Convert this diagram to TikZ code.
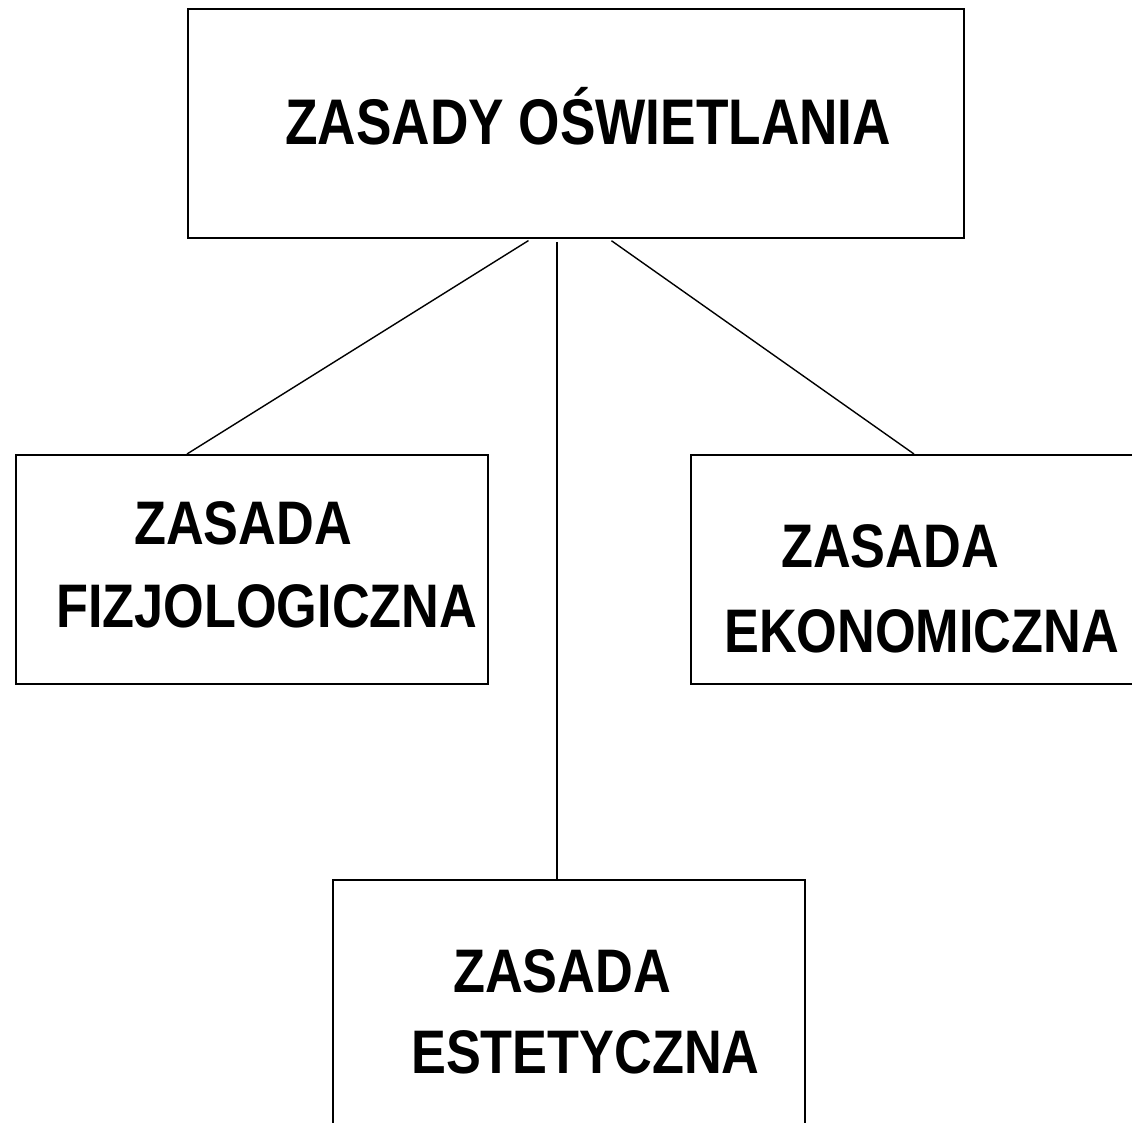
\documentclass[tikz,border=0pt]{standalone}
\usepackage{fontspec}
\newfontfamily\boxfont{Liberation Sans}[FakeStretch=0.85]
\newfontfamily\titlefont{Liberation Sans}[FakeStretch=0.825]
\usetikzlibrary{positioning}

\begin{document}
\begin{tikzpicture}[x=1pt,y=-1pt,
    box/.style={rectangle, draw, line width=2pt, inner sep=0, minimum width=472, minimum height=229},
    word/.style={anchor=base west, inner sep=0, font=\boxfont\bfseries\fontsize{61.5}{70}\selectfont},
    conn/.style={line width=1.4pt, shorten <=3pt}]

    \clip (0,0) rectangle (1132,1123);
    \fill[white] (0,0) rectangle (1132,1123);

    \node[box, minimum width=776] (top) at (576,123.5) {};
    \node[box] (fiz) at (252,569.5) {};
    \node[box] (eko) at (927,569.5) {};
    \node[box, minimum height=260] (est) at (569,1010) {};

    \node[word, font=\titlefont\bfseries\fontsize{64.5}{70}\selectfont] (toptext) at (285,145) {ZASADY OŚWIETLANIA};

    \node[word] (fiz1) at (134,544) {ZASADA};
    \node[word] (fiz2) at (56,627) {FIZJOLOGICZNA};

    \node[word] (eko1) at (781,567) {ZASADA};
    \node[word] (eko2) at (724,652) {EKONOMICZNA};

    \node[word] (est1) at (453,992) {ZASADA};
    \node[word] (est2) at (411,1073) {ESTETYCZNA};

    \path[conn]
        ([xshift=-45pt]top.south) edge ([xshift=-65pt]fiz.north)
        ([xshift=-19pt]top.south) edge ([xshift=-12pt]est.north)
        ([xshift=33pt]top.south) edge ([xshift=-13pt]eko.north)
        ;
\end{tikzpicture}
\end{document}
